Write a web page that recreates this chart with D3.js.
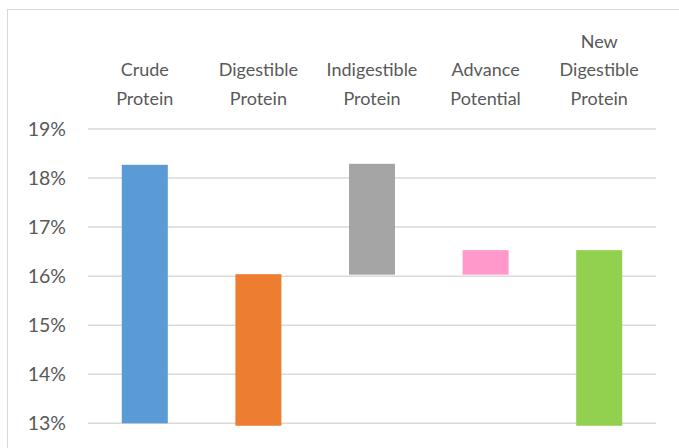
<!DOCTYPE html>
<html>
<head>
<meta charset="utf-8">
<script src="https://cdn.jsdelivr.net/npm/d3@7/dist/d3.min.js"></script>
<style>
  html, body { margin: 0; padding: 0; background: #fff; }
  svg { display: block; }
  text { font-family: Lato, "Open Sans", sans-serif; fill: #595959; }
</style>
</head>
<body>
<script>
// Protein breakdown, shown as floating columns (bottom / top in percent)
const categories = [
  ["Crude", "Protein"],
  ["Digestible", "Protein"],
  ["Indigestible", "Protein"],
  ["Advance", "Potential"],
  ["New", "Digestible", "Protein"]
];
const barLow  = [13.0, 12.95, 16.03, 16.03, 12.95];
const barHigh = [18.27, 16.04, 18.29, 16.53, 16.53];
const colors  = ["#5B9BD5", "#ED7D31", "#A5A5A5", "#FF99CC", "#92D050"];
const yTicks  = [13, 14, 15, 16, 17, 18, 19];

const W = 679, H = 448;
const svg = d3.select("body").append("svg").attr("width", W).attr("height", H);

// chart frame
svg.append("rect")
  .attr("x", 7.5).attr("y", 9.5)
  .attr("width", 700).attr("height", 500)
  .attr("fill", "none").attr("stroke", "#d9d9d9").attr("stroke-width", 1);

const plot = { left: 88, right: 656, top: 129, bottom: 423.3 };

const x = d3.scaleBand()
  .domain(d3.range(categories.length))
  .range([plot.left, plot.right])
  .padding(0);

const y = d3.scaleLinear()
  .domain([13, 19])
  .range([plot.bottom, plot.top]);

// horizontal gridlines
svg.append("g").selectAll("line")
  .data(yTicks)
  .join("line")
  .attr("x1", plot.left).attr("x2", plot.right)
  .attr("y1", d => y(d)).attr("y2", d => y(d))
  .attr("stroke", "#d9d9d9").attr("stroke-width", 1.5);

// y axis labels
const yAxis = d3.axisLeft(y)
  .tickValues(yTicks)
  .tickFormat(d => d + "%")
  .tickSize(0)
  .tickPadding(0);
const gy = svg.append("g").attr("transform", "translate(66,0)").call(yAxis);
gy.select(".domain").remove();
gy.selectAll("text")
  .attr("font-family", "Lato, 'Open Sans', sans-serif")
  .attr("font-size", 19.5)
  .attr("fill", "#595959");

// columns
const barW = x.bandwidth() * 0.405;
svg.append("g").selectAll("rect")
  .data(categories.map((c, i) => i))
  .join("rect")
  .attr("x", i => x(i) + (x.bandwidth() - barW) / 2)
  .attr("width", barW)
  .attr("y", i => y(barHigh[i]))
  .attr("height", i => y(barLow[i]) - y(barHigh[i]))
  .attr("fill", i => colors[i]);

// category labels above the plot, bottom-aligned
const lineH = 28.5;
const lastBaseline = 104.5;
const lab = svg.append("g").selectAll("text")
  .data(categories)
  .join("text")
  .attr("text-anchor", "middle")
  .attr("font-size", 18)
  .attr("x", (d, i) => x(i) + x.bandwidth() / 2);
lab.selectAll("tspan")
  .data(d => d.map((t, k) => ({ t, k, n: d.length })))
  .join("tspan")
  .attr("x", function () { return this.parentNode.getAttribute("x"); })
  .attr("y", d => lastBaseline - (d.n - 1 - d.k) * lineH)
  .text(d => d.t);
</script>
</body>
</html>
